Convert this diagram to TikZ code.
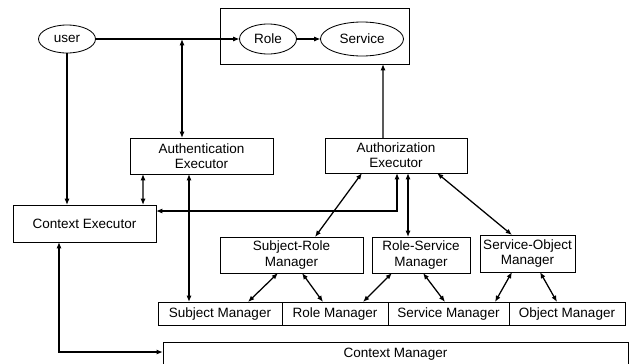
\documentclass[tikz,border=0pt]{standalone}
\usepackage{fontspec}
\setmainfont{Liberation Sans}
\usetikzlibrary{shapes.geometric, arrows.meta, calc}

\tikzset{
    box/.style={shape=rectangle, draw=black, line width=0.6pt, inner sep=0pt, outer sep=0pt, align=center},
    oval/.style={shape=ellipse, draw=black, line width=0.6pt, inner sep=0pt, outer sep=0pt},
    arr/.style={line width=0.9pt, -{Latex[length=4.5pt,width=3.6pt]}},
    dbl/.style={line width=0.9pt, {Latex[length=4.5pt,width=3.6pt]}-{Latex[length=4.5pt,width=3.6pt]}}
}

\begin{document}
\begin{tikzpicture}[x=0.025cm, y=-0.025cm, font=\fontsize{9.6}{10.8}\selectfont]
        \useasboundingbox (0, 0) rectangle (635, 363);

        \node[box, minimum width=4.725cm, minimum height=1.4cm] (top) at (314.5, 36) {};
        \node[oval, minimum width=1.425cm, minimum height=0.7cm] (user) at (67, 39) {user};
        \node[oval, minimum width=1.425cm, minimum height=0.75cm] (role) at (268, 39) {Role};
        \node[oval, minimum width=2.075cm, minimum height=0.85cm] (service) at (362, 39) {Service};

        \node[box, minimum width=3.575cm, minimum height=0.9cm] (authn) at (201.5, 156) {Authentication\\Executor};
        \node[box, minimum width=3.55cm, minimum height=0.875cm] (authz) at (396, 155.5) {Authorization\\Executor};
        \node[box, minimum width=3.575cm, minimum height=0.925cm] (ctxexec) at (84.5, 223.5) {Context Executor};

        \node[box, minimum width=3.575cm, minimum height=0.9cm] (srm) at (291.5, 255) {Subject-Role\\Manager};
        \node[box, minimum width=2.45cm, minimum height=0.9cm] (rsm) at (421, 255) {Role-Service\\Manager};
        \node[box, minimum width=2.375cm, minimum height=0.925cm] (som) at (527.5, 253.5) {Service-Object\\Manager};

        \node[box, minimum width=3.1cm, minimum height=0.575cm] (subjm) at (220, 313.5) {Subject Manager};
        \node[box, minimum width=2.65cm, minimum height=0.575cm] (rolem) at (335, 313.5) {Role Manager};
        \node[box, minimum width=3.025cm, minimum height=0.575cm] (servm) at (448.5, 313.5) {Service Manager};
        \node[box, minimum width=2.9cm, minimum height=0.575cm] (objm) at (567, 313.5) {Object Manager};

        \node[box, minimum width=11.625cm, minimum height=0.6cm] (ctxm) at (395.5, 354) {Context Manager};

        \coordinate (split) at (182, 39);

        \draw[arr] (user) -- (role);
        \draw[arr] (role) -- (service);
        \draw[dbl] (split) -- (split |- authn.north);
        \draw[arr] (user) -- (user |- ctxexec.north);

        \draw[dbl] ($(authn.south)+(-58.5,0)$) -- ($(ctxexec.north east)+(-13,0)$);
        \draw[dbl] ($(authn.south)+(-12.5,0)$) -- ($(subjm.north)+(-31,0)$);
        \draw[arr] ($(authz.north)+(-13,0)$) -- ($(top.south)+(68.5,0)$);
        \draw[dbl] ($(ctxexec.east)+(0,-12.5)$) -| ($(authz.south)+(1,0)$);

        \draw[dbl] ($(authz.south)+(-34,0)$) -- ($(srm.north)+(23.5,0)$);
        \draw[dbl] ($(authz.south)+(12,0)$) -- ($(rsm.north)+(-13,0)$);
        \draw[dbl] ($(authz.south)+(41,0)$) -- ($(som.north)+(-15.5,0)$);

        \draw[dbl] ($(srm.south)+(-13.5,0)$) -- ($(subjm.north)+(28,0)$);
        \draw[dbl] ($(srm.south)+(10.5,0)$) -- ($(rolem.north)+(-12,0)$);
        \draw[dbl] ($(rsm.south)+(-29,0)$) -- ($(rolem.north)+(28,0)$);
        \draw[dbl] ($(rsm.south)+(2,0)$) -- ($(servm.north)+(-3.5,0)$);
        \draw[dbl] ($(som.south)+(-15.5,0)$) -- ($(servm.north)+(46.5,0)$);
        \draw[dbl] ($(som.south)+(12.5,0)$) -- ($(objm.north)+(-10,0)$);

        \draw[dbl] ($(ctxexec.south)+(-25.5,0)$) |- ($(ctxm.west)+(0,-2)$);
\end{tikzpicture}
\end{document}
